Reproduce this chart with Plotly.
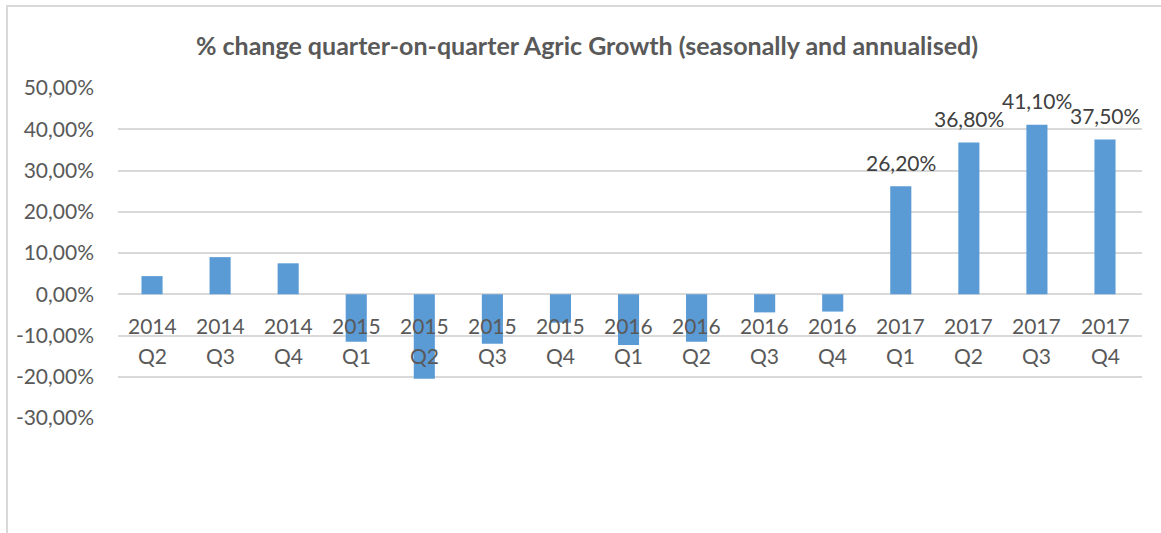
import plotly.graph_objects as go

years = ["2014", "2014", "2014", "2015", "2015", "2015", "2015", "2016", "2016", "2016", "2016", "2017", "2017", "2017", "2017"]
quarters = ["Q2", "Q3", "Q4", "Q1", "Q2", "Q3", "Q4", "Q1", "Q2", "Q3", "Q4", "Q1", "Q2", "Q3", "Q4"]
growth = [4.4, 9.0, 7.5, -11.5, -20.5, -12.0, -6.9, -12.3, -11.5, -4.4, -4.2, 26.2, 36.8, 41.1, 37.5]
labelled = [False] * 11 + [True] * 4
y_ticks = [-30, -20, -10, 0, 10, 20, 30, 40, 50]

cats = [f"{y} {q}" for y, q in zip(years, quarters)]
FONT = "Lato"
GREY = "#595959"
FS = 21

def pct(v):
    return f"{v:.2f}%".replace(".", ",")

fig = go.Figure(go.Bar(x=cats, y=growth, marker=dict(color="#5b9bd5", line=dict(width=0)),
                       hoverinfo="skip"))

ann = []
for c, y, q, v, lab in zip(cats, years, quarters, growth, labelled):
    ann.append(dict(x=c, y=0, xref="x", yref="y", text=y, showarrow=False,
                    yanchor="middle", yshift=-31, font=dict(size=FS, color=GREY, family=FONT)))
    ann.append(dict(x=c, y=0, xref="x", yref="y", text=q, showarrow=False,
                    yanchor="middle", yshift=-61, font=dict(size=FS, color=GREY, family=FONT)))
    if lab:
        ann.append(dict(x=c, y=v, xref="x", yref="y", text=pct(v), showarrow=False,
                        yanchor="middle", yshift=24, font=dict(size=FS, color="#404040", family=FONT)))

W, H = 1161, 533
L, R, T, B = 118, 19, 88, 115
pw, ph = W - L - R, H - T - B

fig.update_layout(
    width=W, height=H,
    margin=dict(l=L, r=R, t=T, b=B),
    paper_bgcolor="white", plot_bgcolor="white",
    bargap=0.69,
    showlegend=False,
    title=dict(text="<b>% change quarter-on-quarter Agric Growth (seasonally and annualised)</b>",
               x=587 / W, xref="container", xanchor="center", y=1 - 46 / H, yref="container",
               yanchor="middle",
               font=dict(size=25, color=GREY, family=FONT)),
    xaxis=dict(showticklabels=False, showgrid=False, zeroline=False, showline=False, ticks=""),
    yaxis=dict(range=[-30, 50], tickvals=y_ticks, ticktext=[pct(v) for v in y_ticks],
               showgrid=True, gridcolor="#d9d9d9", gridwidth=1.5, zeroline=True,
               zerolinecolor="#d9d9d9", zerolinewidth=1.5, showline=False,
               ticks="", ticklabelstandoff=23,
               tickfont=dict(size=FS, color=GREY, family=FONT)),
    annotations=ann,
    shapes=[dict(type="rect", xref="paper", yref="paper",
                 x0=(7 - L) / pw, x1=(W + 20 - L) / pw,
                 y0=-(H + 20 - T - ph) / ph, y1=1 + (T - 6) / ph,
                 line=dict(color="#d9d9d9", width=2), layer="below")],
)

fig.write_html("out.html", config={"displayModeBar": False},
               post_script="document.body.style.margin='0';document.body.style.overflow='hidden';")
